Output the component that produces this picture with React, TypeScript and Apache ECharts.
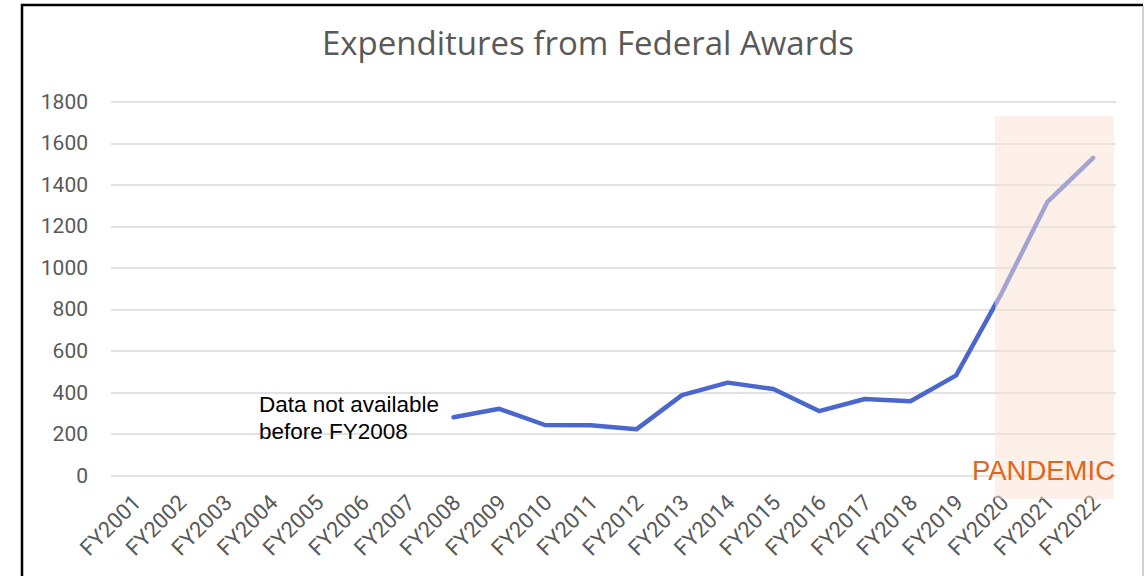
import React, { useEffect, useRef } from "react";
import * as echarts from "echarts";

const categories = [
  "FY2001", "FY2002", "FY2003", "FY2004", "FY2005", "FY2006", "FY2007",
  "FY2008", "FY2009", "FY2010", "FY2011", "FY2012", "FY2013", "FY2014",
  "FY2015", "FY2016", "FY2017", "FY2018", "FY2019", "FY2020", "FY2021", "FY2022",
];

const expenditures: (number | null)[] = [
  null, null, null, null, null, null, null,
  281, 322, 244, 243, 223, 388, 448,
  417, 311, 369, 358, 483, 880, 1318, 1530,
];

const yMin = 0;
const yMax = 1800;
const yInterval = 200;

const titleText = "Expenditures from Federal Awards";
const noteLines = ["Data not available", "before FY2008"];
const pandemicLabel = "PANDEMIC";

export default function App() {
  const ref = useRef<HTMLDivElement>(null);

  useEffect(() => {
    if (!ref.current) return;
    const chart = echarts.init(ref.current, undefined, { renderer: "svg" });
    const labelShift = 3;
    chart.setOption({
      animation: false,
      backgroundColor: "#ffffff",
      title: {
        text: titleText,
        left: 583,
        top: 21,
        textAlign: "center",
        textStyle: {
          fontFamily: "Open Sans",
          fontSize: 33,
          fontWeight: "normal",
          color: "#595959",
        },
      },
      grid: [
        { left: 111, right: 29, top: 101.7, bottom: 100.3, containLabel: false },
        {
          left: 111 + labelShift,
          right: 29 - labelShift,
          top: 101.7,
          bottom: 100.3,
          containLabel: false,
        },
      ],
      xAxis: [
        {
          type: "category",
          gridIndex: 0,
          data: categories,
          boundaryGap: true,
          axisLine: { show: false },
          axisTick: { show: false },
          axisLabel: { show: false },
        },
        {
          type: "category",
          gridIndex: 1,
          data: categories,
          boundaryGap: true,
          axisLine: { show: false },
          axisTick: { show: false },
          splitLine: { show: false },
          axisLabel: {
            rotate: 45,
            interval: 0,
            margin: 23,
            fontFamily: "Roboto",
            fontSize: 22,
            color: "#595959",
          },
        },
      ],
      yAxis: [
        {
          type: "value",
          gridIndex: 0,
          min: yMin,
          max: yMax,
          interval: yInterval,
          axisLine: { show: false },
          axisTick: { show: false },
          axisLabel: {
            margin: 23,
            fontFamily: "Roboto",
            fontSize: 21,
            color: "#595959",
            formatter: (v: number) => String(v),
          },
          splitLine: { lineStyle: { color: "#D9D9D9", width: 1.5 } },
        },
        {
          type: "value",
          gridIndex: 1,
          min: yMin,
          max: yMax,
          interval: yInterval,
          show: false,
          splitLine: { show: false },
        },
      ],
      series: [
        {
          type: "line",
          xAxisIndex: 0,
          yAxisIndex: 0,
          data: expenditures,
          connectNulls: false,
          showSymbol: false,
          symbol: "none",
          lineStyle: { color: "#4B66CC", width: 4.5, cap: "round", join: "round" },
          z: 2,
        },
      ],
      graphic: [
        {
          type: "rect",
          z: 50,
          shape: { x: 995, y: 116, width: 119, height: 383 },
          style: { fill: "rgba(252,225,209,0.5)" },
          silent: true,
        },
        {
          type: "text",
          z: 60,
          x: 1115,
          y: 484,
          style: {
            text: pandemicLabel,
            fontFamily: "Liberation Sans",
            fontSize: 27.5,
            fill: "#E2661A",
            align: "right",
            verticalAlign: "bottom",
          },
          silent: true,
        },
        {
          type: "text",
          z: 60,
          x: 259,
          y: 391,
          style: {
            text: noteLines.join("\n"),
            fontFamily: "Liberation Sans",
            fontSize: 22.5,
            lineHeight: 27,
            fill: "#000000",
            align: "left",
            verticalAlign: "top",
          },
          silent: true,
        },
        {
          type: "line",
          z: 70,
          shape: { x1: 21, y1: 5, x2: 1143, y2: 5 },
          style: { stroke: "#000000", lineWidth: 2.5 },
          silent: true,
        },
        {
          type: "line",
          z: 70,
          shape: { x1: 22, y1: 4, x2: 22, y2: 576 },
          style: { stroke: "#000000", lineWidth: 2.5 },
          silent: true,
        },
        {
          type: "line",
          z: 70,
          shape: { x1: 1143, y1: 6, x2: 1143, y2: 576 },
          style: { stroke: "#D0D0D0", lineWidth: 2 },
          silent: true,
        },
      ],
    });
    return () => chart.dispose();
  }, []);

  return (
    <div
      ref={ref}
      style={{ position: "fixed", left: 0, top: 0, width: 1145, height: 576, background: "#fff" }}
    />
  );
}
